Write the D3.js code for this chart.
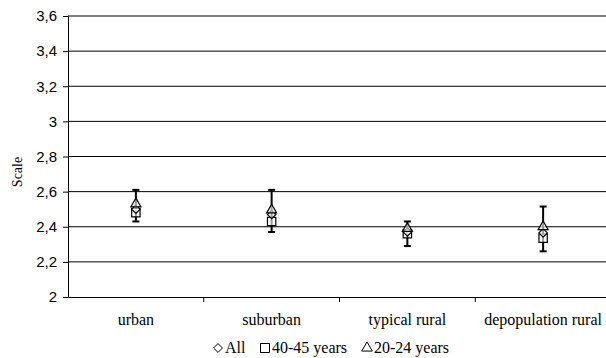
<!DOCTYPE html>
<html>
<head>
<meta charset="utf-8">
<script src="https://cdn.jsdelivr.net/npm/d3@7"></script>
<style>
  body { margin: 0; background: #fff; }
  svg { display: block; }
</style>
</head>
<body>
<div id="chart"></div>
<script>
// values
var categories = ["urban", "suburban", "typical rural", "depopulation rural"];
var allValues = [2.50, 2.47, 2.37, 2.365];
var age4045Values = [2.48, 2.43, 2.36, 2.335];
var age2024Values = [2.53, 2.495, 2.39, 2.40];
var whiskerLow = [2.43, 2.37, 2.29, 2.26];
var whiskerHigh = [2.61, 2.61, 2.43, 2.515];
var yTicks = [2, 2.2, 2.4, 2.6, 2.8, 3, 3.2, 3.4, 3.6];

var width = 606, height = 358;
// plot area runs a little past the right edge of the picture
var margin = { top: 16, right: -5, bottom: 61, left: 68 };
var w = width - margin.left - margin.right;
var h = height - margin.top - margin.bottom;

var svg = d3.select("#chart").append("svg")
  .attr("width", width)
  .attr("height", height);

var g = svg.append("g")
  .attr("transform", "translate(" + margin.left + "," + margin.top + ")");

var x = d3.scaleBand().domain(categories).range([0, w]);
var y = d3.scaleLinear().domain([2, 3.6]).range([h, 0]);

// gridlines
g.selectAll(".grid")
  .data(yTicks.slice(1))
  .enter().append("line")
  .attr("x1", 0).attr("x2", w)
  .attr("y1", function (d) { return y(d); })
  .attr("y2", function (d) { return y(d); })
  .attr("stroke", "#000").attr("stroke-width", 1);

// y axis
var yAxis = g.append("g")
  .call(d3.axisLeft(y).tickValues(yTicks).tickSize(5).tickPadding(6)
    .tickFormat(function (d) { return String(d).replace(".", ","); }));
yAxis.select(".domain").attr("stroke", "#000");
yAxis.selectAll("text").attr("font-family", "Liberation Sans, Arial, sans-serif")
  .attr("font-size", 15).attr("fill", "#000");

// x axis
var xAxis = g.append("g")
  .attr("transform", "translate(0," + h + ")")
  .call(d3.axisBottom(x).tickSize(0).tickPadding(17));
xAxis.select(".domain").attr("stroke", "#000");
xAxis.selectAll("text").attr("font-family", "Liberation Serif, Times New Roman, serif")
  .attr("font-size", 16).attr("fill", "#000");
// category separators
g.selectAll(".sep")
  .data(categories.slice(1))
  .enter().append("line")
  .attr("x1", function (d) { return x(d); })
  .attr("x2", function (d) { return x(d); })
  .attr("y1", h).attr("y2", h + 5)
  .attr("stroke", "#000");

svg.append("text")
  .attr("transform", "translate(17," + 172 + ") rotate(-90)")
  .attr("text-anchor", "middle")
  .attr("dy", "0.35em")
  .attr("font-family", "Liberation Serif, Times New Roman, serif")
  .attr("font-size", 14)
  .text("Scale");

var cx = function (i) { return x(categories[i]) + x.bandwidth() / 2; };

// whiskers
categories.forEach(function (c, i) {
  var xc = cx(i);
  g.append("line").attr("x1", xc).attr("x2", xc)
    .attr("y1", y(whiskerLow[i])).attr("y2", y(whiskerHigh[i]))
    .attr("stroke", "#000").attr("stroke-width", 2);
  [whiskerLow[i], whiskerHigh[i]].forEach(function (v) {
    g.append("line").attr("x1", xc - 3.5).attr("x2", xc + 3.5)
      .attr("y1", y(v)).attr("y2", y(v))
      .attr("stroke", "#000").attr("stroke-width", 2);
  });
});

var sq = d3.symbol().type(d3.symbolSquare).size(70);
var di = d3.symbol().type(d3.symbolDiamond2).size(46);
var tr = d3.symbol().type(d3.symbolTriangle2).size(72);

function drawSeries(values, sym) {
  g.selectAll(null)
    .data(values)
    .enter().append("path")
    .attr("d", sym)
    .attr("transform", function (d, i) { return "translate(" + cx(i) + "," + y(d) + ")"; })
    .attr("fill", "#fff").attr("fill-opacity", 0.6)
    .attr("stroke", "#000").attr("stroke-width", 1.2);
}
drawSeries(age4045Values, sq);
drawSeries(allValues, di);
drawSeries(age2024Values, tr);

// legend
var legend = svg.append("g").attr("transform", "translate(0,353)");
var items = [
  { label: "All", sym: d3.symbol().type(d3.symbolDiamond2).size(50), x: 218 },
  { label: "40-45 years", sym: d3.symbol().type(d3.symbolSquare).size(81), x: 265 },
  { label: "20-24 years", sym: d3.symbol().type(d3.symbolTriangle2).size(80), x: 367 }
];
items.forEach(function (it) {
  legend.append("path").attr("d", it.sym)
    .attr("transform", "translate(" + it.x + ",-5)")
    .attr("fill", "none").attr("stroke", "#000").attr("stroke-width", 1);
  legend.append("text").attr("x", it.x + 7).attr("y", 0)
    .attr("font-family", "Liberation Serif, Times New Roman, serif")
    .attr("font-size", 16)
    .text(it.label);
});
</script>
</body>
</html>
